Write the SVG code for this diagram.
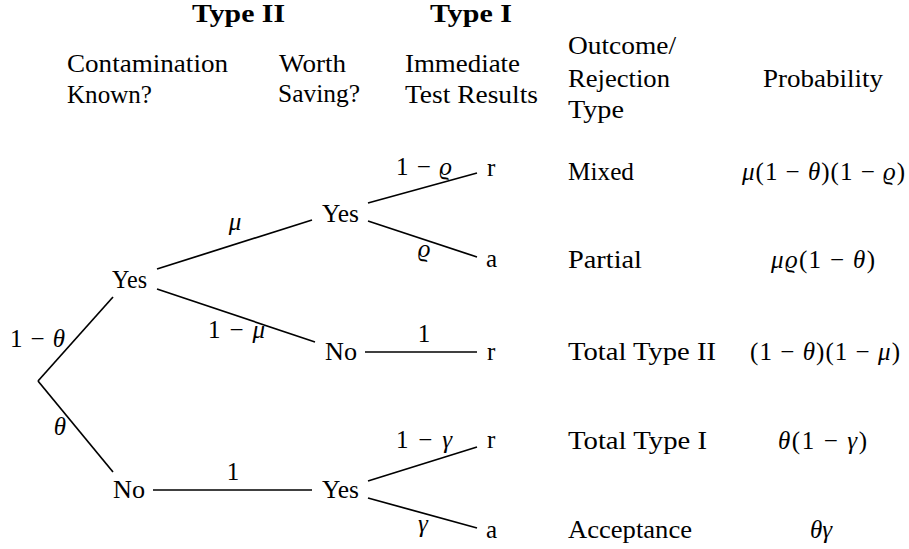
<svg xmlns="http://www.w3.org/2000/svg" width="909" height="549" viewBox="0 0 909 549">
<style>
text{font-family:"Liberation Serif","DejaVu Serif",serif;font-size:25px;fill:#000}
.b{font-weight:bold}
.m{font-style:italic}
.c{text-anchor:middle}
.e line{stroke:#000;stroke-width:1.7;stroke-linecap:butt}
</style>
<rect width="909" height="549" fill="#fff"/>
<g id="headers">
<text class="b" x="192" y="22" textLength="93" lengthAdjust="spacingAndGlyphs">Type II</text>
<text class="b" x="430" y="22" textLength="82" lengthAdjust="spacingAndGlyphs">Type I</text>
<text x="67" y="72" textLength="161" lengthAdjust="spacingAndGlyphs">Contamination</text>
<text x="67" y="103" textLength="85" lengthAdjust="spacingAndGlyphs">Known?</text>
<text x="279" y="72" textLength="67" lengthAdjust="spacingAndGlyphs">Worth</text>
<text x="278" y="102" textLength="82" lengthAdjust="spacingAndGlyphs">Saving?</text>
<text x="405" y="72" textLength="115" lengthAdjust="spacingAndGlyphs">Immediate</text>
<text x="405" y="103" textLength="133" lengthAdjust="spacingAndGlyphs">Test Results</text>
<text x="568" y="54" textLength="108" lengthAdjust="spacingAndGlyphs">Outcome/</text>
<text x="568" y="87" textLength="102" lengthAdjust="spacingAndGlyphs">Rejection</text>
<text x="568" y="118" textLength="56" lengthAdjust="spacingAndGlyphs">Type</text>
<text x="763" y="87" textLength="120" lengthAdjust="spacingAndGlyphs">Probability</text>
</g>
<g class="e" id="connectors">
<line x1="38" y1="381" x2="113" y2="297"/>
<line x1="38" y1="381" x2="113" y2="472"/>
<line x1="157" y1="269" x2="312" y2="220"/>
<line x1="157" y1="289" x2="315" y2="342"/>
<line x1="368" y1="203" x2="477" y2="173"/>
<line x1="368" y1="221" x2="477" y2="257"/>
<line x1="365" y1="352" x2="477" y2="352"/>
<line x1="153" y1="490" x2="312" y2="490"/>
<line x1="368" y1="481" x2="477" y2="447"/>
<line x1="368" y1="498" x2="477" y2="528"/>
</g>
<g id="edge-labels">
<text x="10" y="347" textLength="55" lengthAdjust="spacing">1 − <tspan class="m">θ</tspan></text>
<text class="m c" x="60" y="435">θ</text>
<text class="m c" x="235" y="230">μ</text>
<text x="208" y="338" textLength="57" lengthAdjust="spacing">1 − <tspan class="m">μ</tspan></text>
<text x="396" y="175" textLength="56" lengthAdjust="spacing">1 − <tspan class="m">ϱ</tspan></text>
<text class="m c" x="424" y="257">ϱ</text>
<text class="c" x="424" y="342">1</text>
<text class="c" x="233" y="480">1</text>
<text x="396" y="448" textLength="56" lengthAdjust="spacing">1 − <tspan class="m">γ</tspan></text>
<text class="m c" x="423" y="532">γ</text>
</g>
<g id="n-yes1"><text x="112" y="288" textLength="35" lengthAdjust="spacingAndGlyphs">Yes</text></g>
<g id="n-no2"><text x="113" y="498" textLength="32" lengthAdjust="spacingAndGlyphs">No</text></g>
<g id="n-yes2"><text x="322" y="222" textLength="37" lengthAdjust="spacingAndGlyphs">Yes</text></g>
<g id="n-no1"><text x="325" y="360" textLength="32" lengthAdjust="spacingAndGlyphs">No</text></g>
<g id="n-yes3"><text x="322" y="498" textLength="37" lengthAdjust="spacingAndGlyphs">Yes</text></g>
<g id="n-r1"><text x="487" y="176">r</text></g>
<g id="n-a1"><text x="486" y="267">a</text></g>
<g id="n-r2"><text x="487" y="360">r</text></g>
<g id="n-r3"><text x="487" y="448">r</text></g>
<g id="n-a2"><text x="486" y="538">a</text></g>
<g id="outcomes">
<text x="568" y="180" textLength="66" lengthAdjust="spacingAndGlyphs">Mixed</text>
<text x="568" y="268" textLength="74" lengthAdjust="spacingAndGlyphs">Partial</text>
<text x="568" y="360" textLength="148" lengthAdjust="spacingAndGlyphs">Total Type II</text>
<text x="568" y="449" textLength="139" lengthAdjust="spacingAndGlyphs">Total Type I</text>
<text x="568" y="538" textLength="124" lengthAdjust="spacingAndGlyphs">Acceptance</text>
</g>
<g id="probabilities">
<text x="742" y="180" textLength="163" lengthAdjust="spacing"><tspan class="m">μ</tspan>(1 − <tspan class="m">θ</tspan>)(1 − <tspan class="m">ϱ</tspan>)</text>
<text x="771" y="268" textLength="104" lengthAdjust="spacing"><tspan class="m">μϱ</tspan>(1 − <tspan class="m">θ</tspan>)</text>
<text x="750" y="360" textLength="150" lengthAdjust="spacing">(1 − <tspan class="m">θ</tspan>)(1 − <tspan class="m">μ</tspan>)</text>
<text x="778" y="449" textLength="89" lengthAdjust="spacing"><tspan class="m">θ</tspan>(1 − <tspan class="m">γ</tspan>)</text>
<text class="m" x="810" y="538">θγ</text>
</g>
</svg>
